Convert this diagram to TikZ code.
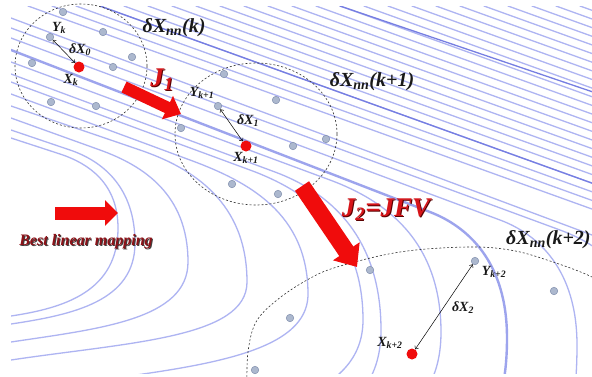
\documentclass[tikz,border=0pt]{standalone}
\usepackage{fontspec}
\setmainfont{Liberation Serif}
\usetikzlibrary{arrows.meta}
\definecolor{flowc}{RGB}{174,180,242}
\definecolor{flowd}{RGB}{118,126,226}
\definecolor{dotf}{RGB}{172,184,206}
\definecolor{dotd}{RGB}{128,142,172}
\definecolor{redA}{RGB}{240,12,12}
\definecolor{redL}{RGB}{215,20,25}
\definecolor{redS}{RGB}{90,0,0}
\definecolor{maroonT}{RGB}{140,18,24}
\definecolor{labc}{RGB}{25,25,25}
\newcommand\sbs[1]{\textsubscript{#1}}
\newcommand\hp[8][]{\draw[flow,#1] (11,#2) -- (#3,#4)
 .. controls ({#3+0.5*(#5-#3)},{#4+0.5*(#5-#3)*(#4-#2)/(#3-11)}) and (#5,{#6-0.6*(#6-#4)}) .. (#5,#6)
 .. controls (#5,{#6+0.72*(#8-#6)}) and ({#7+0.5*(#5-#7)},{#8-0.075*(#5-#7)}) .. (#7,#8);}
\tikzset{
 flow/.style={draw=flowc, line width=1.3pt, line cap=round},
 flowdark/.style={draw=flowd, line width=1.3pt},
 flowthick/.style={draw=flowc!70!flowd, line width=2.4pt},
 dashc/.style={draw=black!80, line width=0.6pt, dash pattern=on 2pt off 2pt},
 gdot/.style={circle, fill=dotf, draw=dotd, line width=0.5pt, inner sep=0pt, minimum size=7.5pt},
 rdot/.style={circle, fill=redA, inner sep=0pt, minimum size=11pt},
 lab/.style={font=\fontsize{14}{15}\selectfont\bfseries\itshape, text=labc, inner sep=0pt},
 big/.style={font=\fontsize{20}{22}\selectfont\bfseries\itshape, text=labc, inner sep=0pt},
 jlab/.style={font=\fontsize{27}{29}\selectfont\bfseries\itshape, inner sep=0pt},
 blm/.style={font=\fontsize{16}{18}\selectfont\bfseries\itshape, inner sep=0pt},
 darr/.style={draw=black, line width=0.5pt, {Straight Barb[length=2.5pt,width=4.5pt]}-{Straight Barb[length=2.5pt,width=4.5pt]}},
}
\begin{document}
\begin{tikzpicture}[x=1pt,y=-1pt]
\useasboundingbox[fill=white] (0,0) rectangle (592,376);
% ---------- flow lines ----------
\begin{scope}
\clip (11,6) rectangle (592,373);
\foreach \x in {28,52,...,580} {\draw[flow] (\x,6) -- ++(620,{0.36*620});}
\draw[flow,flowdark] (100,6) -- ++(620,{0.36*620});
\draw[flow,flowdark] (340,6) -- ++(620,{0.34*620});
\hp{138}{60}{154}{118}{228}{11}{316}
\hp{130}{70}{150}{135}{243}{11}{324}
\hp{118}{100}{150}{188}{262}{11}{342}
\hp{106}{140}{150}{247}{282}{11}{360}
\hp{94}{190}{160}{308}{294}{11}{392}
\hp{82}{250}{170}{363}{320}{150}{430}
\hp{74}{275}{172}{381}{330}{250}{440}
\hp{62}{330}{180}{441}{332}{330}{440}
\hp[flowthick]{50}{430}{212}{507}{338}{450}{450}
\hp{38}{500}{220}{577}{345}{540}{460}
\hp{28}{560}{230}{650}{360}{600}{470}
\hp{18}{600}{238}{720}{370}{680}{480}
\end{scope}
% ---------- neighbourhoods ----------
\draw[dashc] (81,66) ellipse [x radius=66, y radius=62];
\draw[dashc] (256,134) ellipse [x radius=81, y radius=71];
\draw[dashc] plot[smooth, tension=0.6] coordinates {(247,385) (248,352) (256,322) (277,300) (307,280) (337,267) (400,252) (467,247) (510,250) (547,260) (592,277) (625,298)};
% ---------- points ----------
\node[gdot] (p1a) at (63,12) {};
\node[gdot] (yk) at (50,37) {};
\node[gdot] (p1b) at (103,32) {};
\node[gdot] (p1c) at (132,57) {};
\node[gdot] (p1d) at (32,63) {};
\node[gdot] (p1e) at (113,67) {};
\node[gdot] (p1f) at (51,102) {};
\node[gdot] (p1g) at (96,106) {};
\node[rdot] (xk) at (79,67) {};
\node[gdot] (p2a) at (224,74) {};
\node[gdot] (p2b) at (276,100) {};
\node[gdot] (yk1) at (218,106) {};
\node[gdot] (p2c) at (181,128) {};
\node[gdot] (p2d) at (326,139) {};
\node[gdot] (p2e) at (293,146) {};
\node[gdot] (p2f) at (232,184) {};
\node[gdot] (p2g) at (278,194) {};
\node[rdot] (xk1) at (246,146) {};
\node[gdot] (p3a) at (370,270) {};
\node[gdot] (yk2) at (475,261) {};
\node[gdot] (p3b) at (554,291) {};
\node[gdot] (p3c) at (290,318) {};
\node[gdot] (p3d) at (255,370) {};
\node[rdot] (xk2) at (412,354) {};
% ---------- distance arrows ----------
\draw[darr] (yk) -- (xk);
\draw[darr] (yk1) -- (xk1);
\draw[darr] (yk2) -- (xk2);
% ---------- block arrows ----------
\coordinate (a1s) at (124,87);
\coordinate (a1e) at (181,114);
\draw[redA, line width=12pt, -{Triangle[length=15pt,width=25pt]}] (a1s) -- (a1e);
\coordinate (a2s) at (302,186);
\coordinate (a2e) at (357,267);
\draw[redA, line width=17pt, -{Triangle[length=19pt,width=31pt]}] (a2s) -- (a2e);
\coordinate (a3s) at (55,213);
\coordinate (a3e) at (118,213);
\draw[redA, line width=13pt, -{Triangle[length=13pt,width=25pt]}] (a3s) -- (a3e);
% ---------- labels ----------
\node[lab] (lyk) at (59,28) {Y\sbs{k}};
\node[lab] (ld0) at (80,50) {δX\sbs{0}};
\node[lab] (lxk) at (71,80) {X\sbs{k}};
\node[big] (ln0) at (174,28) {δX\sbs{nn}(k)};
\node[lab] (lyk1) at (202,93) {Y\sbs{k+1}};
\node[lab] (ld1) at (248,121) {δX\sbs{1}};
\node[lab] (lxk1) at (246,158) {X\sbs{k+1}};
\node[big] (ln1) at (372,82) {δX\sbs{nn}(k+1)};
\node[lab] (lyk2) at (494,272) {Y\sbs{k+2}};
\node[lab] (ld2) at (463,308) {δX\sbs{2}};
\node[lab] (lxk2) at (390,343) {X\sbs{k+2}};
\node[big, anchor=west] (ln2) at (506,240) {δX\sbs{nn}(k+2)};
\node[jlab, text=redS] (lj1s) at (163,81) {J\sbs{1}};
\node[jlab, text=redL] (lj1) at (162,80) {J\sbs{1}};
\node[jlab, text=redS] (lj2s) at (387,211) {J\sbs{2}=JFV};
\node[jlab, text=redL] (lj2) at (386,210) {J\sbs{2}=JFV};
\node[blm, text=black!75] (lbs) at (87,243) {Best linear mapping};
\node[blm, text=maroonT] (lb) at (86,242) {Best linear mapping};
\end{tikzpicture}
\end{document}
